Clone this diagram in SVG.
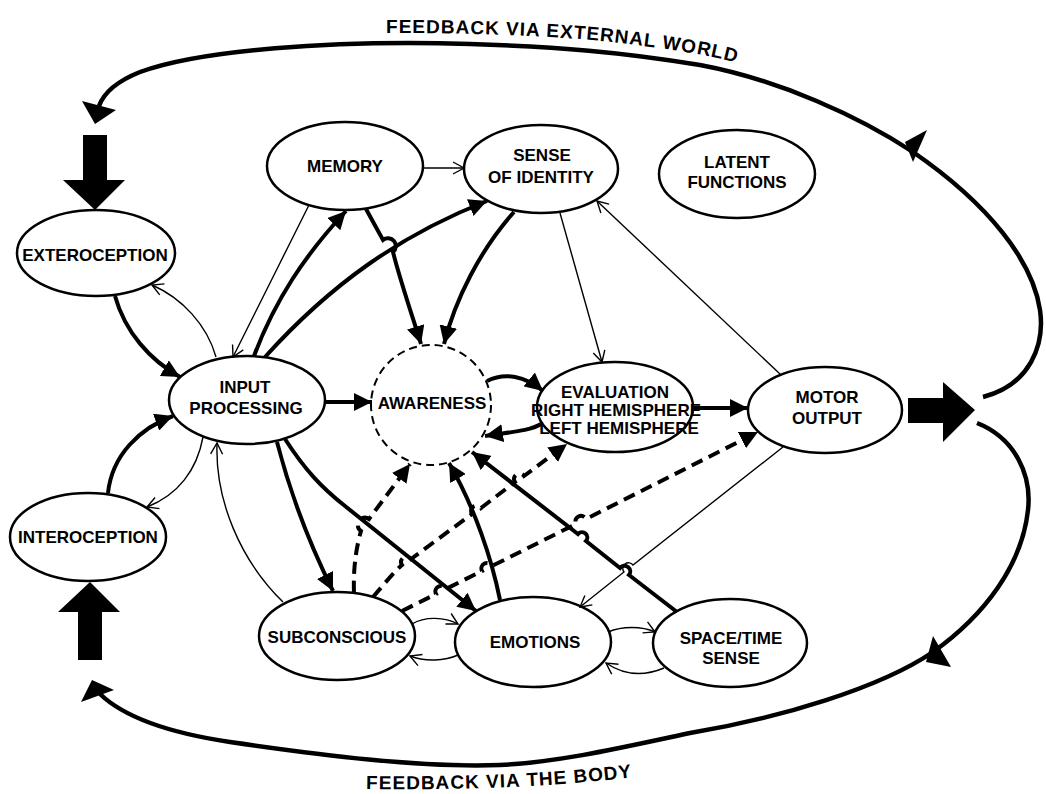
<svg xmlns="http://www.w3.org/2000/svg" width="1046" height="794" viewBox="0 0 1046 794">
<defs>
<style>
.n ellipse{fill:#fff;stroke:#000;stroke-width:2.5}
.n text,.lbl{font-family:"Liberation Sans",Arial,Helvetica,sans-serif;font-weight:bold;font-size:17px;text-anchor:middle;fill:#000}
.small{font-size:15px}
.thin{fill:none;stroke:#000;stroke-width:1.4;marker-end:url(#open)}
.thick{fill:none;stroke:#000;stroke-width:4;marker-end:url(#fill)}
.dash{fill:none;stroke:#000;stroke-width:4;stroke-dasharray:12 7;marker-end:url(#fill)}
.fb{fill:none;stroke:#000;stroke-width:4.5}
.big{fill:#000}
.title{font-size:19px;text-anchor:start}
</style>
<marker id="fill" markerUnits="userSpaceOnUse" markerWidth="20" markerHeight="18" refX="18" refY="9" orient="auto">
<path d="M0,0 L18,9 L0,18 Z" fill="#000"/>
</marker>
<marker id="open" markerUnits="userSpaceOnUse" markerWidth="14" markerHeight="14" refX="12" refY="7" orient="auto">
<path d="M1,1 L12,7 L1,13" fill="none" stroke="#000" stroke-width="1.4"/>
</marker>
</defs>
<rect width="1046" height="794" fill="#fff"/>

<g id="nodes">
<g id="memory" class="n"><ellipse cx="345" cy="166" rx="78" ry="44"/><text x="345" y="172">MEMORY</text></g>
<g id="sense-of-identity" class="n"><ellipse cx="541" cy="169" rx="77" ry="44"/><text x="542" y="161">SENSE</text><text x="541" y="183">OF IDENTITY</text></g>
<g id="latent-functions" class="n"><ellipse cx="737" cy="174" rx="78" ry="44"/><text x="737" y="168">LATENT</text><text x="737" y="188">FUNCTIONS</text></g>
<g id="exteroception" class="n"><ellipse cx="96" cy="253" rx="79" ry="43"/><text x="95" y="261">EXTEROCEPTION</text></g>
<g id="input-processing" class="n"><ellipse cx="247" cy="400" rx="78" ry="44"/><text x="245" y="393">INPUT</text><text x="246" y="414">PROCESSING</text></g>
<g id="awareness" class="n"><circle cx="431" cy="405" r="60" fill="#fff" stroke="#000" stroke-width="2" stroke-dasharray="8 5"/><text x="432" y="409">AWARENESS</text></g>
<g id="evaluation" class="n"><ellipse cx="615" cy="407" rx="78" ry="45"/><text x="615" y="398">EVALUATION</text><text class="small" x="616" y="416">RIGHT HEMISPHERE</text><text class="small" x="619" y="434">LEFT HEMISPHERE</text></g>
<g id="motor-output" class="n"><ellipse cx="825" cy="410" rx="77" ry="43"/><text x="827" y="403">MOTOR</text><text x="827" y="424">OUTPUT</text></g>
<g id="interoception" class="n"><ellipse cx="88" cy="537" rx="78" ry="44"/><text x="88" y="543">INTEROCEPTION</text></g>
<g id="subconscious" class="n"><ellipse cx="337" cy="636" rx="78" ry="44"/><text x="337" y="643">SUBCONSCIOUS</text></g>
<g id="emotions" class="n"><ellipse cx="533" cy="642" rx="78" ry="45"/><text x="535" y="648">EMOTIONS</text></g>
<g id="space-time-sense" class="n"><ellipse cx="730" cy="643" rx="77" ry="44"/><text x="731" y="644">SPACE/TIME</text><text x="731" y="664">SENSE</text></g>
</g>

<g id="connectors">
<!-- feedback loops -->
<path class="fb" d="M983,397 C1030,385 1045,345 1040,310 C1033,262 990,205 913,152 C860,117 780,80 700,65 C620,52 560,47 470,44 C330,40 200,50 140,72 C115,82 103,95 99,106"/>
<polygon class="big" points="905,142 927,130 913,162"/>
<polygon class="big" points="82,101 116,110 95,124"/>
<path class="fb" d="M977,423 C1015,438 1032,475 1028,510 C1022,565 985,615 933,652 C880,688 780,718 690,733 C620,748 560,762 500,765 C420,768 320,755 230,742 C170,733 125,718 100,694"/>
<polygon class="big" points="926,662 933,636 951,667"/>
<polygon class="big" points="92,680 114,690 81,702"/>
<!-- big input/output arrows -->
<polygon class="big" points="83,135 107,135 107,180 125,180 95,210 63,180 83,180"/>
<polygon class="big" points="90,582 120,612 102,612 102,660 78,660 78,612 58,612"/>
<polygon class="big" points="908,398 943,398 943,382 975,410 943,442 943,423 908,423"/>

<!-- sensory loops -->
<path class="thick" d="M115,296 C125,332 150,360 180,377"/>
<path class="thin" d="M216,357 C207,325 182,298 152,285"/>
<path class="thick" d="M108,493 C112,455 140,428 173,416"/>
<path class="thin" d="M203,437 C197,470 178,495 147,507"/>

<!-- memory / identity -->
<path class="thin" d="M309,205 L233,357"/>
<path class="thick" d="M254,356 C275,300 305,255 346,211"/>
<path class="thick" d="M265,357 C330,285 400,235 487,201"/>
<path class="thin" d="M423,168 L464,168"/>
<path class="thick" d="M366,209 L383,240 A6,6 0 0 1 393,252 C400,280 412,315 421,344"/>
<path class="thick" d="M514,212 C480,250 455,300 444,344"/>
<path class="thin" d="M560,213 L602,362"/>
<path class="thin" d="M780,374 L597,201"/>

<!-- central flow -->
<path class="thick" d="M325,402 L372,402"/>
<path class="thick" d="M487,381 C505,372 525,376 543,391"/>
<path class="thick" d="M541,424 C530,431 510,432 485,436"/>
<path class="thick" d="M693,408 L748,408"/>

<!-- lower part -->
<path class="thick" d="M277,442 C292,500 315,555 333,591"/>
<path class="thick" d="M285,439 C305,470 322,488 345,506 L476,611" stroke-width="3.2"/>
<path class="thin" d="M283,602 C240,560 215,500 217,443"/>
<path class="dash" d="M354,593 C353,565 357,545 361,531 A5,5 0 0 1 369,519 L410,464"/>
<path class="dash" d="M373,597 C385,583 395,571 402,565 A5,5 0 0 1 411,559 L472,514 A5,5 0 0 1 481,508 L515,482 A5,5 0 0 1 524,476 L567,444"/>
<path class="thick" d="M500,600 C492,560 475,508 449,463" stroke-width="3.2"/>
<path class="thick" d="M677,612 L629,575 A5,5 0 0 0 620,568 L586,541 A5,5 0 0 0 578,534 L472,452" stroke-width="3.6"/>
<path class="dash" d="M402,611 L436,594 A5,5 0 0 1 446,589 L482,571 A5,5 0 0 1 492,566 L576,524 A5,5 0 0 1 586,519 L758,432"/>
<path class="thin" d="M783,447 L633,565 A5,5 0 0 0 624,572 L580,607"/>
<path class="thin" d="M412,624 C425,616 445,617 458,624"/>
<path class="thin" d="M458,655 C445,661 425,662 410,656"/>
<path class="thin" d="M608,632 C622,626 642,626 655,632"/>
<path class="thin" d="M664,668 C645,676 625,676 606,663"/>
</g>

<g id="labels">
<path id="tp1" d="M386,33 C480,33 560,36 620,43 C670,49 710,55 745,65" fill="none"/>
<text class="lbl title"><textPath href="#tp1" textLength="352" lengthAdjust="spacing">FEEDBACK VIA EXTERNAL WORLD</textPath></text>
<path id="tp2" d="M366,789 Q520,791 635,777" fill="none"/>
<text class="lbl title"><textPath href="#tp2" textLength="266" lengthAdjust="spacing">FEEDBACK VIA THE BODY</textPath></text>
</g>
</svg>
